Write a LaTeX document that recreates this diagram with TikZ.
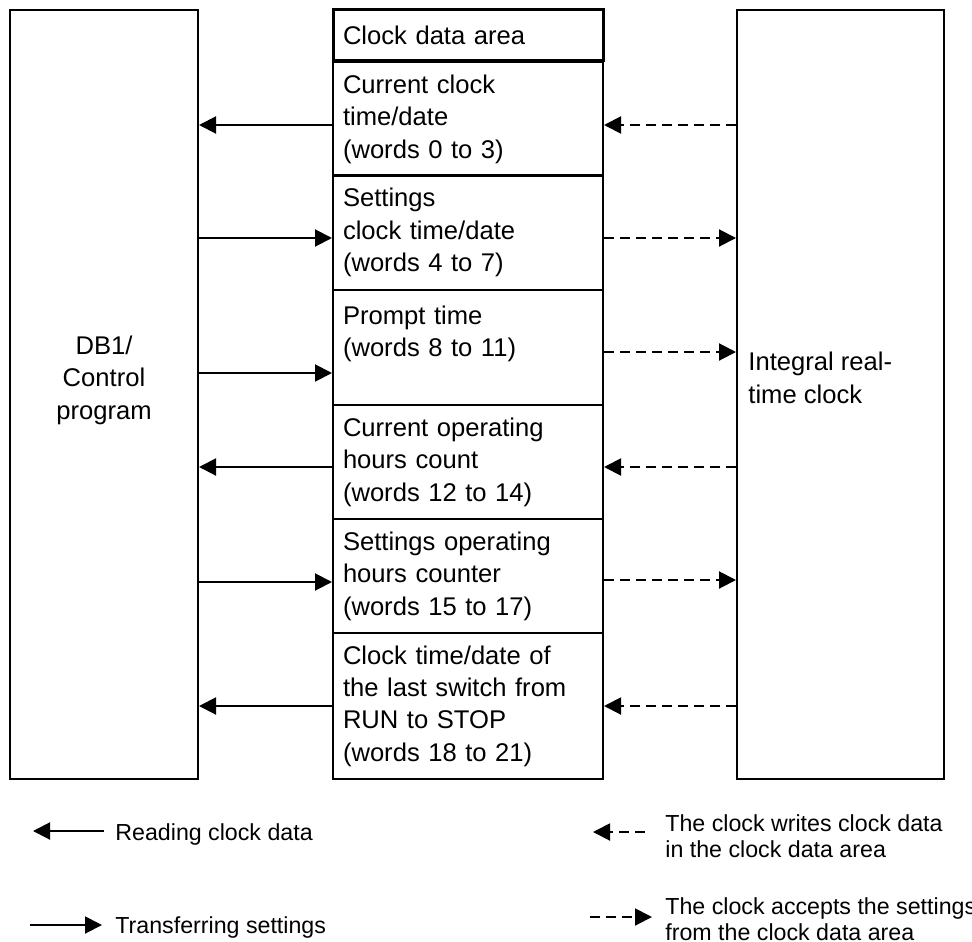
\documentclass[tikz,border=0pt]{standalone}
\usepackage{fontspec}
\setmainfont{Liberation Sans}
\usetikzlibrary{arrows.meta}

\begin{document}
\begin{tikzpicture}[x=0.5pt,y=-0.5pt]
\tikzset{
  sidebox/.style={draw,line width=1pt,minimum height=384.5pt,inner sep=0pt},
  cell/.style={draw,line width=1pt,minimum width=135pt,text width=125pt,inner xsep=5pt,inner ysep=0pt,align=left,font=\fontsize{12.8}{16.2}\selectfont},
  headcell/.style={cell,line width=1.5pt,minimum height=25.5pt},
  boxtext/.style={inner sep=0pt,font=\fontsize{12.8}{16.2}\selectfont},
  legendtext/.style={inner sep=0pt,anchor=west,align=left,font=\fontsize{11.6}{13}\selectfont},
  dataline/.style={-{Triangle[length=8.5pt,width=8.5pt]},line width=1pt},
  clockline/.style={dataline,dash pattern=on 5pt off 3pt}
}
\useasboundingbox (0,0) rectangle (972,941);
% outer blocks
\node[sidebox,minimum width=94pt] (n_db) at (104,394.5) {};
\node[sidebox,minimum width=103.5pt] (n_rtc) at (840.5,394.5) {};
\node[boxtext,align=center] (n_dbtext) at (104,380) {DB1/\\Control\\program};
\node[boxtext,align=left,anchor=west] (n_rtctext) at (748,378) {Integral real-\\time clock};
% clock data area
\node[cell,minimum height=57pt] (n_r1) at (468,119) {Current clock\\time/date\\(words 0 to 3)};
\node[cell,minimum height=57.5pt] (n_r2) at (468,232.5) {Settings\\clock time/date\\(words 4 to 7)};
\node[cell,minimum height=57.5pt] (n_r3) at (468,347.5) {Prompt time\\(words 8 to 11)\\\mbox{}};
\node[cell,minimum height=57pt] (n_r4) at (468,462) {Current operating\\hours count\\(words 12 to 14)};
\node[cell,minimum height=57pt] (n_r5) at (468,576) {Settings operating\\hours counter\\(words 15 to 17)};
\node[cell,minimum height=73pt] (n_r6) at (468,706) {Clock time/date of\\the last switch from\\RUN to STOP\\(words 18 to 21)};
\node[headcell] (n_head) at (468,35.5) {Clock data area};
% program side
\draw[dataline] (n_r1.west |- 0,125) -- (n_db.east |- 0,125);
\draw[dataline] (n_db.east |- 0,238) -- (n_r2.west |- 0,238);
\draw[dataline] (n_db.east |- 0,373) -- (n_r3.west |- 0,373);
\draw[dataline] (n_r4.west |- 0,467) -- (n_db.east |- 0,467);
\draw[dataline] (n_db.east |- 0,582) -- (n_r5.west |- 0,582);
\draw[dataline] (n_r6.west |- 0,706) -- (n_db.east |- 0,706);
% clock side
\draw[clockline] (n_rtc.west |- 0,125) -- (n_r1.east |- 0,125);
\draw[clockline] (n_r2.east |- 0,238) -- (n_rtc.west |- 0,238);
\draw[clockline] (n_r3.east |- 0,352) -- (n_rtc.west |- 0,352);
\draw[clockline] (n_rtc.west |- 0,467) -- (n_r4.east |- 0,467);
\draw[clockline] (n_r5.east |- 0,580) -- (n_rtc.west |- 0,580);
\draw[clockline] (n_rtc.west |- 0,706) -- (n_r6.east |- 0,706);
% legend
\node[legendtext] (n_lgread) at (115,834) {Reading clock data};
\node[legendtext] (n_lgsend) at (115,927) {Transferring settings};
\node[legendtext] (n_lgwrite) at (665,836) {The clock writes clock data\\in the clock data area};
\node[legendtext] (n_lgaccept) at (665,919) {The clock accepts the settings\\from the clock data area};
\coordinate (c_read) at (104,831);
\coordinate (c_send) at (30,925);
\coordinate (c_write) at (645,832);
\coordinate (c_accept) at (590,917);
\draw[dataline] (c_read) -- (c_read -| 33,0);
\draw[dataline] (c_send) -- (c_send -| 102,0);
\draw[clockline] (c_write) -- (c_write -| 593,0);
\draw[clockline] (c_accept) -- (c_accept -| 652,0);
\end{tikzpicture}
\end{document}
